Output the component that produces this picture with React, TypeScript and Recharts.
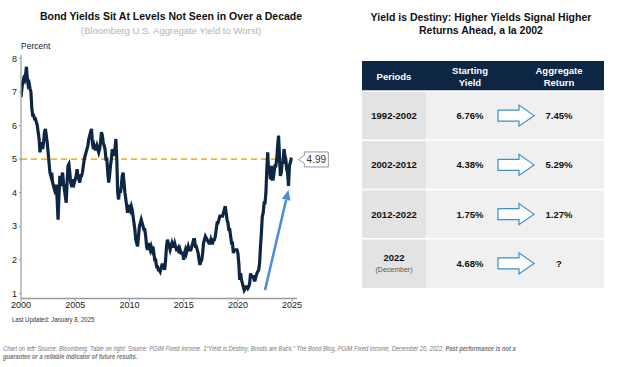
import { LineChart, Line, XAxis, YAxis, ReferenceLine, ReferenceDot } from "recharts";

// monthly yield to worst (%), Jan of each block's first year onward
const yields2000s = [
  6.85, 7.1, 7.3, 7.4, 7.35, 7.5, 7.75, 7.4, 7.2, 7.25, 7.1, 7.0,
  6.5, 6.3, 6.3, 6.2, 6.2, 6.1, 6.0, 5.8, 5.6, 5.2, 5.4, 5.5,
  5.3, 5.5, 5.8, 5.9, 5.7, 5.5, 5.2, 4.9, 4.6, 4.5, 4.6, 4.3,
  4.2, 4.1, 4.2, 4.2, 3.8, 3.2, 3.9, 4.5, 4.2, 4.4, 4.6, 4.3,
  4.1, 3.9, 3.7, 4.3, 4.8, 4.85, 4.6, 4.3, 4.2, 4.2, 4.4, 4.3,
];
const yields2005s = [
  4.4, 4.5, 4.7, 4.5, 4.4, 4.3, 4.5, 4.5, 4.6, 4.8, 5.0, 5.1,
  5.2, 5.3, 5.4, 5.6, 5.7, 5.8, 5.9, 5.5, 5.3, 5.4, 5.3, 5.3,
  5.4, 5.3, 5.2, 5.3, 5.5, 5.8, 5.7, 5.5, 5.4, 5.3, 5.0, 5.0,
  4.6, 4.3, 4.5, 4.8, 5.0, 5.3, 5.1, 5.2, 5.3, 5.6, 5.0, 4.0,
  3.8, 4.1, 4.0, 4.2, 4.5, 4.6, 4.3, 4.0, 3.8, 3.6, 3.4, 3.6,
];
const yields2010s = [
  3.6, 3.5, 3.6, 3.5, 3.3, 3.1, 2.9, 2.6, 2.5, 2.4, 2.7, 3.0,
  3.1, 3.2, 3.1, 3.0, 2.9, 2.9, 2.7, 2.4, 2.3, 2.5, 2.4, 2.3,
  2.4, 2.3, 2.4, 2.2, 2.0, 2.0, 1.8, 1.8, 1.7, 1.7, 1.65, 1.75,
  1.85, 1.85, 1.8, 1.7, 2.0, 2.4, 2.6, 2.5, 2.4, 2.3, 2.4, 2.5,
  2.4, 2.4, 2.5, 2.4, 2.3, 2.3, 2.35, 2.2, 2.3, 2.2, 2.2, 2.2,
];
const yields2015s = [
  2.0, 2.2, 2.3, 2.2, 2.3, 2.4, 2.3, 2.3, 2.3, 2.4, 2.5, 2.6,
  2.6, 2.4, 2.4, 2.3, 2.2, 2.0, 1.85, 1.95, 2.0, 2.2, 2.5, 2.6,
  2.7, 2.65, 2.6, 2.55, 2.5, 2.5, 2.6, 2.5, 2.5, 2.6, 2.6, 2.7,
  2.9, 3.1, 3.1, 3.2, 3.3, 3.3, 3.3, 3.3, 3.4, 3.5, 3.6, 3.4,
  3.2, 3.1, 2.9, 2.9, 2.7, 2.5, 2.5, 2.2, 2.3, 2.3, 2.3, 2.3,
];
const yields2020s = [
  2.2, 1.9, 1.4, 1.6, 1.4, 1.3, 1.2, 1.1, 1.15, 1.2, 1.2, 1.15,
  1.2, 1.3, 1.6, 1.5, 1.5, 1.5, 1.4, 1.4, 1.5, 1.6, 1.65, 1.7,
  1.9, 2.4, 2.8, 3.3, 3.4, 3.7, 3.7, 4.0, 4.7, 5.2, 4.6, 4.7,
  4.4, 4.8, 4.4, 4.4, 4.6, 4.8, 4.8, 5.0, 5.4, 5.7, 5.1, 4.5,
  4.6, 4.9, 4.9, 5.3, 5.1, 5.0, 4.7, 4.6, 4.2, 4.8, 4.9, 5.0,
];
const lastPoint = { t: 2025.02, y: 4.99 };

const xTicks = [2000, 2005, 2010, 2015, 2020, 2025];
const yTicks = [1, 2, 3, 4, 5, 6, 7, 8];
const trendArrow = [{ x: 2022.5, y: 1.1 }, { x: 2024.66, y: 4.08 }];

const periods = ["1992-2002", "2002-2012", "2012-2022", "2022"];
const startYields = ["6.76%", "4.38%", "1.75%", "4.68%"];
const aggReturns = ["7.45%", "5.29%", "1.27%", "?"];

const blocks: [number, number[]][] = [
  [2000, yields2000s],
  [2005, yields2005s],
  [2010, yields2010s],
  [2015, yields2015s],
  [2020, yields2020s],
];
const data = blocks
  .flatMap(([start, vals]) => vals.map((y, i) => ({ t: start + i / 12, y })))
  .concat([lastPoint]);

const FONT = "'Liberation Sans', Arial, sans-serif";
const NAVY = "#0c2644";

const Callout = (p: any) => {
  const { cx, cy } = p;
  const tx = cx + 6;
  const l = tx + 6, r = tx + 30, t = cy - 7.5, b = cy + 7.5;
  return (
    <g>
      <polygon
        points={`${tx},${cy} ${l},${cy - 4} ${l},${t} ${r},${t} ${r},${b} ${l},${b} ${l},${cy + 4}`}
        fill="#fff"
        stroke="#8d9aa6"
        strokeWidth={1}
      />
      <text x={(l + r) / 2} y={cy + 3.5} textAnchor="middle" fontSize={10} fill="#333" fontFamily={FONT}>
        4.99
      </text>
    </g>
  );
};

const ArrowShape = (p: any) => {
  const { x1, y1, x2, y2 } = p;
  const ang = Math.atan2(y2 - y1, x2 - x1);
  const len = 10, half = 4.5;
  const bx = x2 - len * Math.cos(ang), by = y2 - len * Math.sin(ang);
  const nx = -Math.sin(ang) * half, ny = Math.cos(ang) * half;
  return (
    <g>
      <line x1={x1} y1={y1} x2={bx} y2={by} stroke="#4a8cdc" strokeWidth={2.5} />
      <polygon points={`${x2},${y2} ${bx + nx},${by + ny} ${bx - nx},${by - ny}`} fill="#4a8cdc" />
    </g>
  );
};

function BlockArrow({ x, y }: { x: number; y: number }) {
  const x0 = x, x1 = x + 21, x2 = x + 36;
  return (
    <polygon
      points={`${x0},${y - 5.5} ${x1},${y - 5.5} ${x1},${y - 10.5} ${x2},${y} ${x1},${y + 10.5} ${x1},${y + 5.5} ${x0},${y + 5.5}`}
      fill="#fff"
      stroke="#3d8ec9"
      strokeWidth={1.2}
    />
  );
}

function YieldTable() {
  const left = 362, right = 604, c1 = 426;
  const headTop = 61, headBot = 91, rowH = 49.25;
  const colX = [394, 470, 559];
  return (
    <svg width={624} height={300} style={{ position: "absolute", left: 0, top: 0 }} fontFamily={FONT}>
      <text x={481} y={21} textAnchor="middle" fontSize={10.5} fontWeight="bold" fill="#111">
        Yield is Destiny: Higher Yields Signal Higher
      </text>
      <text x={481} y={34} textAnchor="middle" fontSize={10.5} fontWeight="bold" fill="#111">
        Returns Ahead, a la 2002
      </text>
      <rect x={left} y={headTop} width={right - left} height={headBot - headTop} fill={NAVY} />
      <text x={colX[0]} y={79.5} textAnchor="middle" fontSize={9.5} fontWeight="bold" fill="#fff">Periods</text>
      <text x={colX[1]} y={74} textAnchor="middle" fontSize={9.5} fontWeight="bold" fill="#fff">Starting</text>
      <text x={colX[1]} y={86} textAnchor="middle" fontSize={9.5} fontWeight="bold" fill="#fff">Yield</text>
      <text x={colX[2]} y={74} textAnchor="middle" fontSize={9.5} fontWeight="bold" fill="#fff">Aggregate</text>
      <text x={colX[2]} y={86} textAnchor="middle" fontSize={9.5} fontWeight="bold" fill="#fff">Return</text>
      {periods.map((p, i) => {
        const top = headBot + i * rowH;
        const mid = top + rowH / 2;
        return (
          <g key={p}>
            <rect x={left} y={top} width={c1 - left} height={rowH} fill="#e3e3e3" />
            <rect x={c1} y={top} width={right - c1} height={rowH} fill="#f0f0f0" />
            <line x1={left} x2={right} y1={top} y2={top} stroke="#fff" strokeWidth={1.5} />
            {i === periods.length - 1 ? (
              <>
                <text x={colX[0]} y={mid - 2} textAnchor="middle" fontSize={9.5} fontWeight="bold" fill="#111">{p}</text>
                <text x={colX[0]} y={mid + 9} textAnchor="middle" fontSize={7} fill="#555">(December)</text>
              </>
            ) : (
              <text x={colX[0]} y={mid + 3.5} textAnchor="middle" fontSize={9.5} fontWeight="bold" fill="#111">{p}</text>
            )}
            <text x={colX[1]} y={mid + 3.5} textAnchor="middle" fontSize={9.5} fontWeight="bold" fill="#111">{startYields[i]}</text>
            <BlockArrow x={498} y={mid} />
            <text x={colX[2]} y={mid + 3.5} textAnchor="middle" fontSize={9.5} fontWeight="bold" fill="#111">{aggReturns[i]}</text>
          </g>
        );
      })}
    </svg>
  );
}

export default function App() {
  return (
    <div style={{ position: "absolute", left: 0, top: 0, width: 624, height: 367, background: "#fff", fontFamily: FONT, overflow: "hidden" }}>
      <style>{"body{margin:0}"}</style>
      <YieldTable />
      <div style={{ position: "absolute", left: 0, width: 342, top: 10, textAlign: "center", fontSize: 10.5, fontWeight: "bold", color: "#111", whiteSpace: "nowrap" }}>
        Bond Yields Sit At Levels Not Seen in Over a Decade
      </div>
      <div style={{ position: "absolute", left: 0, width: 342, top: 25, textAlign: "center", fontSize: 9.5, color: "#b3b3b3", whiteSpace: "nowrap" }}>
        (Bloomberg U.S. Aggregate Yield to Worst)
      </div>
      <div style={{ position: "absolute", left: 21, top: 41, fontSize: 8.5, color: "#222" }}>Percent</div>
      <div style={{ position: "absolute", left: 0, top: 0 }}>
        <LineChart width={340} height={320} data={data} margin={{ top: 55, right: 43, bottom: 1.5, left: 0 }}>
          <XAxis
            type="number"
            dataKey="t"
            domain={[2000, 2025.45]}
            ticks={xTicks}
            allowDataOverflow
            height={20}
            tickSize={3}
            tickMargin={0}
            tick={{ fontSize: 9, fill: "#222", fontFamily: FONT }}
            axisLine={{ stroke: "#999", strokeWidth: 1.5 }}
            tickLine={{ stroke: "#999" }}
          />
          <YAxis
            type="number"
            domain={[0.85, 8.1]}
            ticks={yTicks}
            allowDataOverflow
            width={21}
            tickSize={2}
            tickMargin={2}
            tick={{ fontSize: 9, fill: "#222", fontFamily: FONT }}
            axisLine={{ stroke: "#999", strokeWidth: 1.2 }}
            tickLine={{ stroke: "#999" }}
          />
          <ReferenceLine
            segment={[{ x: 2000, y: 5 }, { x: 2025.05, y: 5 }]}
            stroke="#f2b530"
            strokeWidth={1.8}
            strokeDasharray="6 4"
          />
          <Line type="linear" dataKey="y" stroke={NAVY} strokeWidth={3.2} dot={false} isAnimationActive={false} />
          <ReferenceLine segment={trendArrow} shape={ArrowShape} />
          <ReferenceDot x={lastPoint.t} y={lastPoint.y} shape={Callout} />
        </LineChart>
      </div>
      <div style={{ position: "absolute", left: 12, top: 316, fontSize: 7, color: "#333", whiteSpace: "nowrap", transform: "scaleX(0.86)", transformOrigin: "left top" }}>
        Last Updated: January 8, 2025
      </div>
      <div style={{ position: "absolute", left: 3, top: 345, fontSize: 6.4, color: "#777", fontStyle: "italic", whiteSpace: "nowrap", lineHeight: "8px", transform: "scaleX(0.9)", transformOrigin: "left top" }}>
        <div>
          Chart on left: Source: Bloomberg. Table on right: Source: PGIM Fixed Income. 1“Yield is Destiny; Bonds are Back,” The Bond Blog, PGIM Fixed Income, December 20, 2022.{" "}
          <b>Past performance is not a</b>
        </div>
        <div>
          <b>guarantee or a reliable indicator of future results.</b>
        </div>
      </div>
    </div>
  );
}
